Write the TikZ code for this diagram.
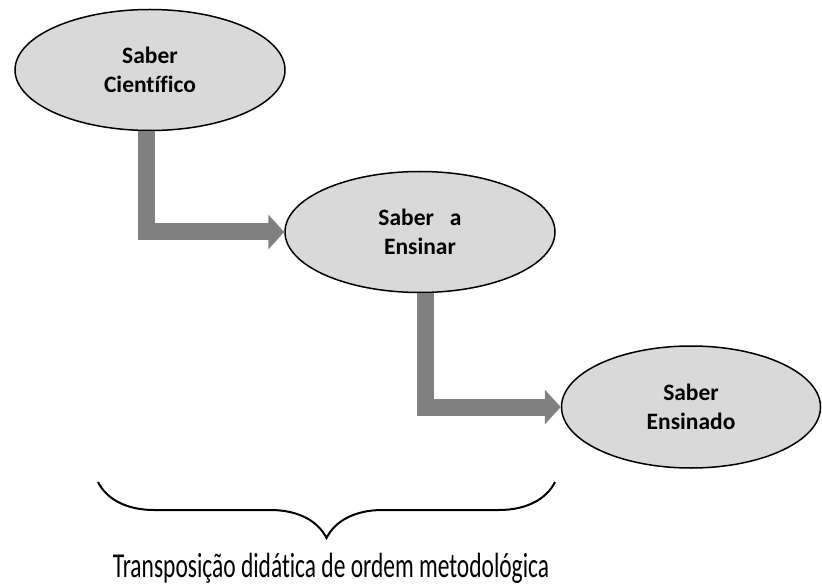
\documentclass[tikz,border=0pt]{standalone}
\usepackage{fontspec}
\setmainfont{Carlito}[Ligatures=CommonOff]
\usetikzlibrary{shapes.geometric,arrows.meta,decorations.pathreplacing}
\definecolor{ellfill}{RGB}{217,217,217}
\definecolor{arrowgray}{RGB}{128,128,128}

\begin{document}
\begin{tikzpicture}[x=1pt, y=-1pt,
            every node/.style = {font=\bfseries\fontsize{23.5}{29}\selectfont, align=center},
            saber/.style = {ellipse, draw, line width=1.5pt, fill=ellfill,
                            minimum width=270pt, minimum height=121pt, inner sep=0pt},
            elbow/.style = {draw=arrowgray, line width=17pt,
                            -{Triangle[length=16pt,width=34pt]}}
            ]
            \useasboundingbox (0,0) rectangle (822,588);
            \node[saber] (cientifico) at (150,70) {Saber\\Científico};
            \node[saber] (ensinar) at (420,232) {Saber~~~a\\Ensinar};
            \node[saber, minimum width=259pt, minimum height=122pt] (ensinado) at (691,407) {Saber\\Ensinado};
            \draw[elbow] ([xshift=-4pt]cientifico.south) |- (ensinar.west);
            \draw[elbow] ([xshift=5pt]ensinar.south) |- (ensinado.west);
            % chave
            \coordinate (chaveE) at (98,482);
            \coordinate (chaveD) at (555,482);
            \draw[line width=2pt, decorate, decoration = {brace, mirror, amplitude=56pt}]
                (chaveE) -- (chaveD);
            \node[font=\fontsize{35}{40}\selectfont, anchor=base, inner sep=0pt] (legenda) at (331,577)
                {\scalebox{0.67}[1]{Transposição didática de ordem metodológica}};
          \end{tikzpicture}
\end{document}
